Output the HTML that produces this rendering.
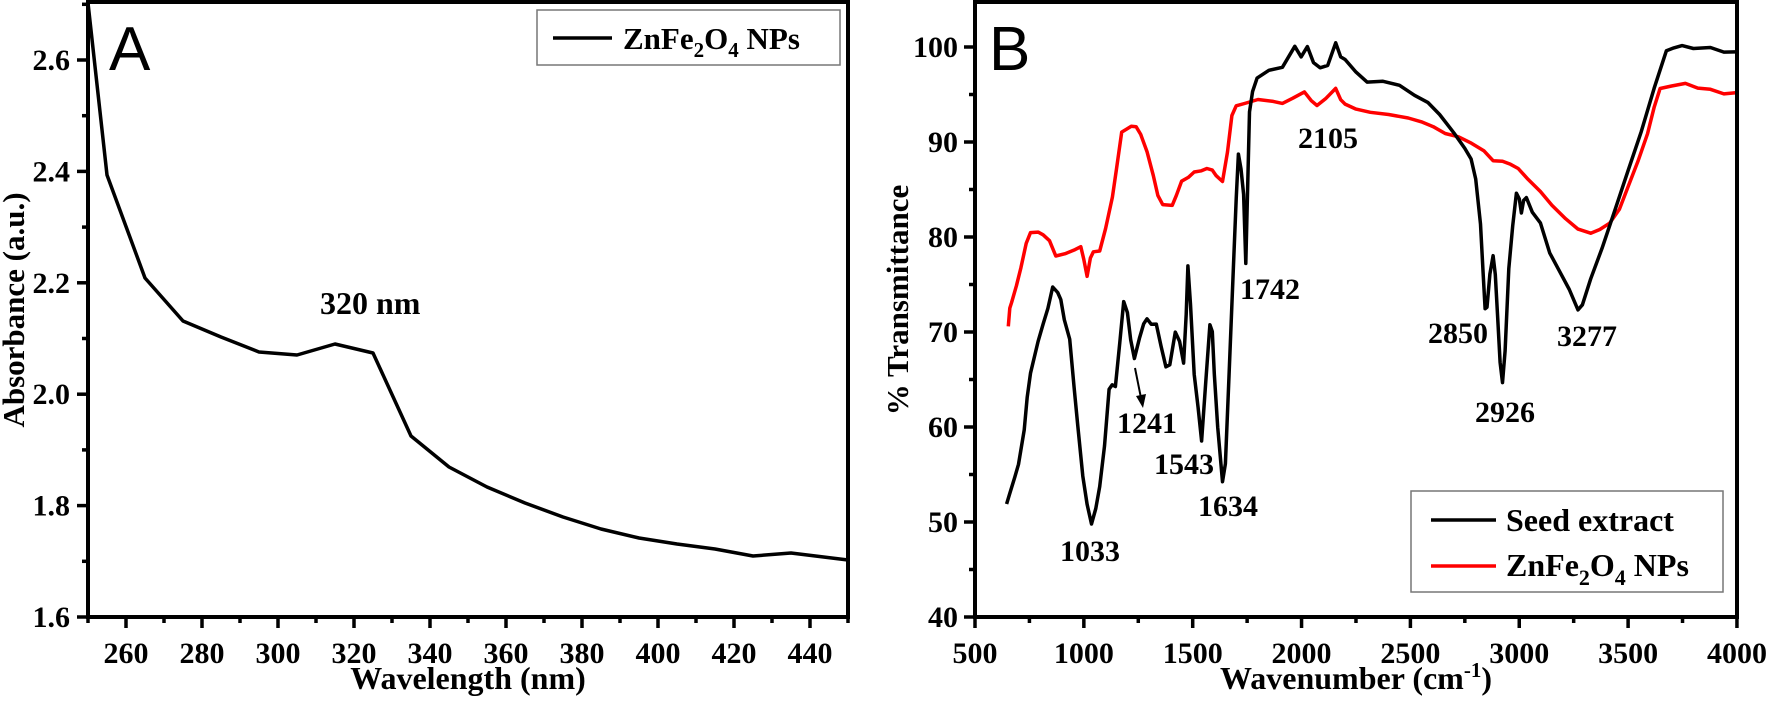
<!DOCTYPE html>
<html><head><meta charset="utf-8"><style>
html,body{margin:0;padding:0;background:#fff;}
svg{display:block;}
text{font-family:"Liberation Serif",serif;font-weight:bold;fill:#000;}
</style></head><body>
<svg id="s" width="1766" height="704" viewBox="0 0 1766 704" xmlns="http://www.w3.org/2000/svg">
<g id="g"></g>
<!-- Panel A labels -->
<text x="109" y="70" style="font-family:'Liberation Sans',sans-serif;font-weight:normal;font-size:62px">A</text>
<text x="320" y="314" font-size="32">320 nm</text>
<text x="468" y="689" font-size="32" text-anchor="middle">Wavelength (nm)</text>
<text transform="translate(24,310) rotate(-90)" font-size="31" text-anchor="middle">Absorbance (a.u.)</text>
<rect x="537" y="10" width="303" height="55" fill="#fff" stroke="#777" stroke-width="1.5"/>
<line x1="553" y1="38" x2="612" y2="38" stroke="#000" stroke-width="3.5"/>
<text x="623" y="49" font-size="31">ZnFe<tspan font-size="21" dy="8">2</tspan><tspan dy="-8">O</tspan><tspan font-size="21" dy="8">4</tspan><tspan dy="-8"> NPs</tspan></text>
<!-- Panel B labels -->
<text x="989" y="70" style="font-family:'Liberation Sans',sans-serif;font-weight:normal;font-size:62px">B</text>
<text x="1356" y="689" font-size="32" text-anchor="middle">Wavenumber (cm<tspan font-size="21" dy="-12">-1</tspan><tspan dy="12">)</tspan></text>
<text transform="translate(908,300) rotate(-90)" font-size="31" text-anchor="middle">% Transmittance</text>
<g font-size="30" text-anchor="middle">
<text x="1090" y="561">1033</text>
<text x="1147" y="433">1241</text>
<text x="1184" y="474">1543</text>
<text x="1228" y="516">1634</text>
<text x="1270" y="299">1742</text>
<text x="1328" y="148">2105</text>
<text x="1458" y="343">2850</text>
<text x="1505" y="422">2926</text>
<text x="1587" y="346">3277</text>
</g>
<line x1="1135" y1="368" x2="1141" y2="398" stroke="#000" stroke-width="2"/>
<polygon points="1136,396 1146,394 1143,408" fill="#000"/>
<rect x="1411" y="491" width="312" height="101" fill="#fff" stroke="#777" stroke-width="1.5"/>
<line x1="1431" y1="520" x2="1496" y2="520" stroke="#000" stroke-width="3.5"/>
<line x1="1431" y1="566" x2="1496" y2="566" stroke="#f00" stroke-width="3.5"/>
<text x="1506" y="531" font-size="32">Seed extract</text>
<text x="1506" y="576" font-size="32">ZnFe<tspan font-size="22" dy="9">2</tspan><tspan dy="-9">O</tspan><tspan font-size="22" dy="9">4</tspan><tspan dy="-9"> NPs</tspan></text>
</svg>
<script>
var NS="http://www.w3.org/2000/svg",g=document.getElementById('g');
function el(t,a){var e=document.createElementNS(NS,t);for(var k in a)e.setAttribute(k,a[k]);g.appendChild(e);return e;}
function txt(x,y,s,anc){var e=el('text',{x:x,y:y,'font-size':30,'text-anchor':anc});e.textContent=s;}
// Panel A
var ax=function(n){return 88+(n-250)*3.8;}, ay=function(v){return 617-(v-1.6)*557;};
var A=[[250,3],[255,175],[265,278],[275,321],[285,337],[295,352],[305,355],[315,344],[325,353],[335,436],[345,467],[355,487],[365,503],[375,517],[385,529],[395,538],[405,544],[415,549],[425,556],[435,553],[450,560]];
el('polyline',{points:A.map(function(p){return ax(p[0])+','+p[1];}).join(' '),fill:'none',stroke:'#000','stroke-width':3.5,'stroke-linejoin':'round'});
el('rect',{x:88,y:2,width:760,height:615,fill:'none',stroke:'#000','stroke-width':4});
for(var n=250;n<=450;n+=10){var maj=(n%20==0);el('line',{x1:ax(n),y1:617,x2:ax(n),y2:617+(maj?11:6),stroke:'#000','stroke-width':3.5});if(maj)txt(ax(n),663,n,'middle');}
for(var i=0;i<=11;i++){var v=1.6+i*0.1,y=ay(v);if(y<2)break;var maj=(i%2==0);el('line',{x1:88,y1:y,x2:88-(maj?11:6),y2:y,stroke:'#000','stroke-width':3.5});if(maj)txt(70,y+10,v.toFixed(1),'end');}
// Panel B
var bx=function(w){return 975+(w-500)*0.2177;}, by=function(t){return 617-(t-40)*9.5;};
var K=[[645,52],[660,53],[683,54.9],[700,56],[726,59.6],[740,63],[755,65.8],[790,69],[813,71],[835,72.5],[857,74.6],[880,74.2],[894,73.4],[910,71.5],[935,69.1],[955,64],[972,60.1],[995,55],[1015,52],[1035,49.9],[1055,51.5],[1073,53.9],[1095,58],[1116,63.9],[1130,64.3],[1145,64.4],[1165,69],[1183,73.4],[1200,72],[1215,69],[1232,67.2],[1255,69.5],[1275,71],[1290,71.4],[1310,70.8],[1333,71],[1355,68.5],[1377,66.2],[1395,66.5],[1420,70],[1440,69],[1458,66.8],[1470,72],[1478,77],[1490,73],[1507,65.4],[1525,62],[1541,58.7],[1560,65],[1579,70.6],[1590,70],[1599,65.8],[1615,60],[1637,54.1],[1650,56],[1666,64.9],[1687,76.8],[1700,84],[1710,88.9],[1722,87],[1734,84.4],[1744,77.3],[1752,85],[1761,93],[1775,95.5],[1796,96.8],[1850,97.5],[1912,98],[1969,99.9],[1998,99],[2027,99.9],[2055,98.5],[2085,97.7],[2120,98.2],[2157,100.3],[2180,99],[2200,98.7],[2250,97.5],[2301,96.5],[2374,96.5],[2450,95.8],[2519,94.9],[2580,94],[2634,93],[2700,91],[2750,89.5],[2779,88.2],[2800,86],[2822,81.5],[2835,76],[2843,72.5],[2852,72.5],[2865,76],[2880,78.2],[2890,76],[2900,72],[2912,67],[2923,64.6],[2935,68],[2952,76.8],[2970,81],[2987,84.6],[3000,84],[3010,82.7],[3020,83.8],[3033,84.1],[3060,82.5],[3097,81.5],[3140,78.5],[3184,76.3],[3230,74.3],[3270,72.5],[3290,73],[3328,75.8],[3380,79],[3444,83],[3500,87],[3560,91],[3620,95.5],[3676,99.6],[3710,99.8],[3748,100.1],[3800,99.8],[3878,99.9],[3940,99.6],[3994,99.5]];
var R=[[653,70.6],[660,72.5],[668,73],[690,75],[711,76.8],[735,79.5],[755,80.6],[790,80.5],[813,80.4],[842,79.6],[871,78.2],[914,78.2],[960,78.6],[986,78.9],[1000,77.5],[1015,76],[1030,77.8],[1044,78.4],[1073,78.7],[1100,81],[1131,84.4],[1150,87],[1174,91],[1218,91.7],[1240,91.5],[1261,91],[1290,89],[1319,86.3],[1340,84.5],[1362,83.4],[1406,83.4],[1425,84.5],[1449,85.7],[1480,86.2],[1507,86.7],[1540,86.8],[1565,87.1],[1590,87],[1608,86.5],[1637,85.7],[1660,89],[1680,92.8],[1700,93.8],[1738,94.1],[1800,94.3],[1870,94.2],[1912,94.2],[1960,94.6],[2013,95.2],[2045,94.3],[2071,93.8],[2110,94.5],[2157,95.5],[2180,94.5],[2200,94],[2250,93.6],[2316,93.2],[2400,93],[2490,92.7],[2550,92.2],[2605,91.5],[2660,91],[2721,90.5],[2780,89.8],[2837,89.1],[2880,88.2],[2923,87.9],[2960,87.7],[2995,87.1],[3040,86],[3097,84.8],[3150,83.3],[3213,82],[3270,81],[3328,80.6],[3370,80.8],[3415,81.5],[3460,83],[3502,85.3],[3545,88],[3589,91],[3620,93.5],[3647,95.8],[3700,96],[3763,96],[3820,95.6],[3878,95.5],[3940,95.2],[3994,95.2]];
function pts(D){return D.map(function(p){var j=((p[0]*7919)%13)/13-0.5;return bx(p[0]).toFixed(1)+','+by(p[1]+j*0.4).toFixed(1);}).join(' ');}
el('polyline',{points:pts(R),fill:'none',stroke:'#f00','stroke-width':3.5,'stroke-linejoin':'round'});
el('polyline',{points:pts(K),fill:'none',stroke:'#000','stroke-width':3.5,'stroke-linejoin':'round'});
el('rect',{x:975,y:2,width:762,height:615,fill:'none',stroke:'#000','stroke-width':4});
for(var w=500;w<=4000;w+=250){var maj=(w%500==0);el('line',{x1:bx(w),y1:617,x2:bx(w),y2:617+(maj?11:6),stroke:'#000','stroke-width':3.5});if(maj)txt(bx(w),663,w,'middle');}
for(var t=40;t<=105;t+=5){var y=by(t);if(y<3)break;var maj=(t%10==0);el('line',{x1:975,y1:y,x2:975-(maj?11:6),y2:y,stroke:'#000','stroke-width':3.5});if(maj)txt(958,y+10,t,'end');}
</script>
</body></html>
